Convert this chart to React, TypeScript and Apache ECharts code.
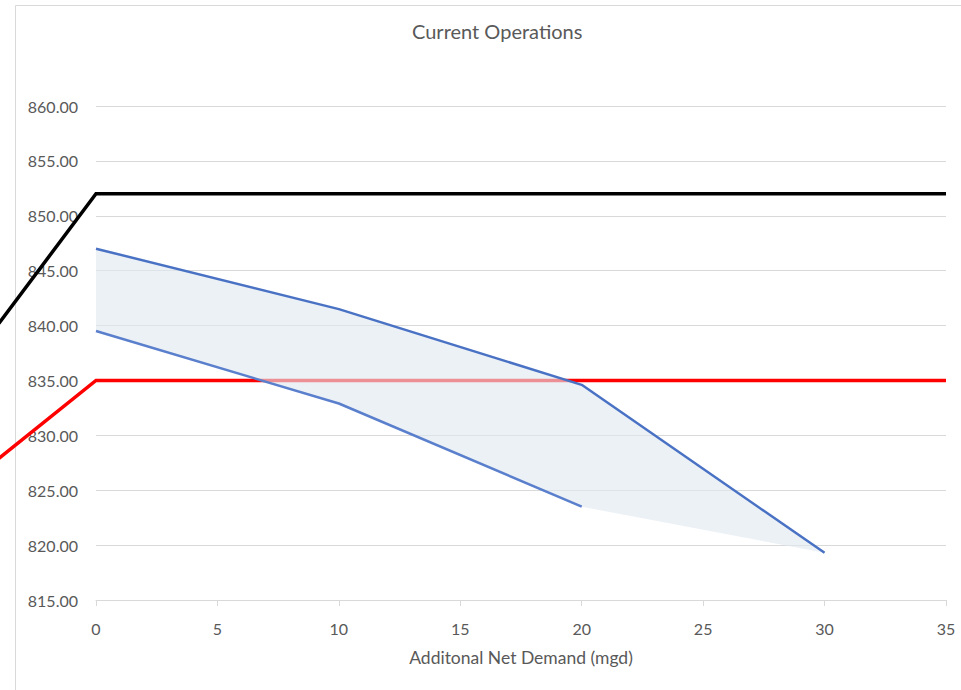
import React, { useEffect, useRef } from "react";
import * as echarts from "echarts";

const titleText = "Current Operations";
const xAxisName = "Additonal Net Demand (mgd)";

// Upper and lower operating range boundaries (x = additional net demand, y = elevation)
const upperX = [0, 10, 20, 30];
const upperY = [847.0, 841.5, 834.6, 819.3];
const lowerX = [0, 10, 20];
const lowerY = [839.5, 832.9, 823.5];

// Reference levels (first point lies left of the axis, cut by the picture edge)
const blackX = [-4, 0, 35];
const blackY = [840.2, 852, 852];
const redX = [-4, 0, 35];
const redY = [827.9, 835, 835];

const yMin = 815;
const yMax = 860;
const yStep = 5;
const xMin = 0;
const xMax = 35;
const xStep = 5;

const zip = (xs: number[], ys: number[]) => xs.map((x, i) => [x, ys[i]]);

export default function App() {
  const ref = useRef<HTMLDivElement>(null);

  useEffect(() => {
    if (!ref.current) return;
    const chart = echarts.init(ref.current, null, { renderer: "svg" });
    const font = "Lato";
    const textColor = "#595959";
    const gridColor = "#d9d9d9";

    const polygonPts = [
      ...zip(upperX, upperY),
      ...zip(lowerX, lowerY).reverse(),
    ];

    const levelSeries = (name: string, pts: number[][], color: string) => ({
      type: "custom",
      name,
      data: pts,
      clip: false,
      z: 2,
      renderItem: (params: any, api: any) => {
        if (params.dataIndex !== 0) return null;
        return {
          type: "polyline",
          shape: { points: pts.map((p) => api.coord(p)) },
          style: { fill: "none", stroke: color, lineWidth: 3.5, lineJoin: "miter" },
        };
      },
    });

    chart.setOption({
      animation: false,
      backgroundColor: "#ffffff",
      textStyle: { fontFamily: font },
      title: {
        text: titleText,
        left: 407,
        top: 16,
        textStyle: {
          fontFamily: font,
          fontSize: 20,
          fontWeight: "normal",
          color: textColor,
        },
      },
      graphic: [
        {
          type: "rect",
          silent: true,
          z: -10,
          shape: { x: 15.5, y: 5.5, width: 1200, height: 1200 },
          style: { fill: "none", stroke: gridColor, lineWidth: 1 },
        },
      ],
      grid: { left: 96, right: 15, top: 106, bottom: 90, containLabel: false },
      xAxis: {
        type: "value",
        min: xMin,
        max: xMax,
        interval: xStep,
        name: xAxisName,
        nameLocation: "middle",
        nameGap: 48,
        nameTextStyle: { fontFamily: font, fontSize: 17.5, color: textColor },
        axisLine: { show: true, onZero: false, lineStyle: { color: gridColor, width: 1 } },
        axisTick: { show: true, length: 6, lineStyle: { color: gridColor } },
        axisLabel: { fontFamily: font, fontSize: 16, color: textColor, margin: 20 },
        splitLine: { show: false },
      },
      yAxis: {
        type: "value",
        min: yMin,
        max: yMax,
        interval: yStep,
        axisLine: { show: false },
        axisTick: { show: false },
        axisLabel: {
          fontFamily: font,
          fontSize: 16,
          color: textColor,
          margin: 18,
          formatter: (v: number) => v.toFixed(2),
        },
        splitLine: { show: true, lineStyle: { color: gridColor, width: 1 } },
      },
      series: [
        levelSeries("Black", zip(blackX, blackY), "#000000"),
        levelSeries("Red", zip(redX, redY), "#ff0000"),
        {
          type: "custom",
          name: "Range",
          data: polygonPts,
          z: 3,
          renderItem: (params: any, api: any) => {
            if (params.dataIndex !== 0) return null;
            const pts = polygonPts.map((p) => api.coord(p));
            return {
              type: "polygon",
              shape: { points: pts },
              style: { fill: "rgba(225,232,240,0.62)", stroke: "none" },
            };
          },
        },
        {
          type: "line",
          name: "Upper",
          data: zip(upperX, upperY),
          showSymbol: false,
          symbol: "none",
          lineStyle: { color: "#4a72c4", width: 2.5 },
          z: 4,
        },
        {
          type: "line",
          name: "Lower",
          data: zip(lowerX, lowerY),
          showSymbol: false,
          symbol: "none",
          lineStyle: { color: "#5a7fcc", width: 2.5 },
          z: 4,
        },
      ],
    });

    return () => chart.dispose();
  }, []);

  return (
    <div
      ref={ref}
      style={{ position: "fixed", left: 0, top: 0, width: 961, height: 690 }}
    />
  );
}
